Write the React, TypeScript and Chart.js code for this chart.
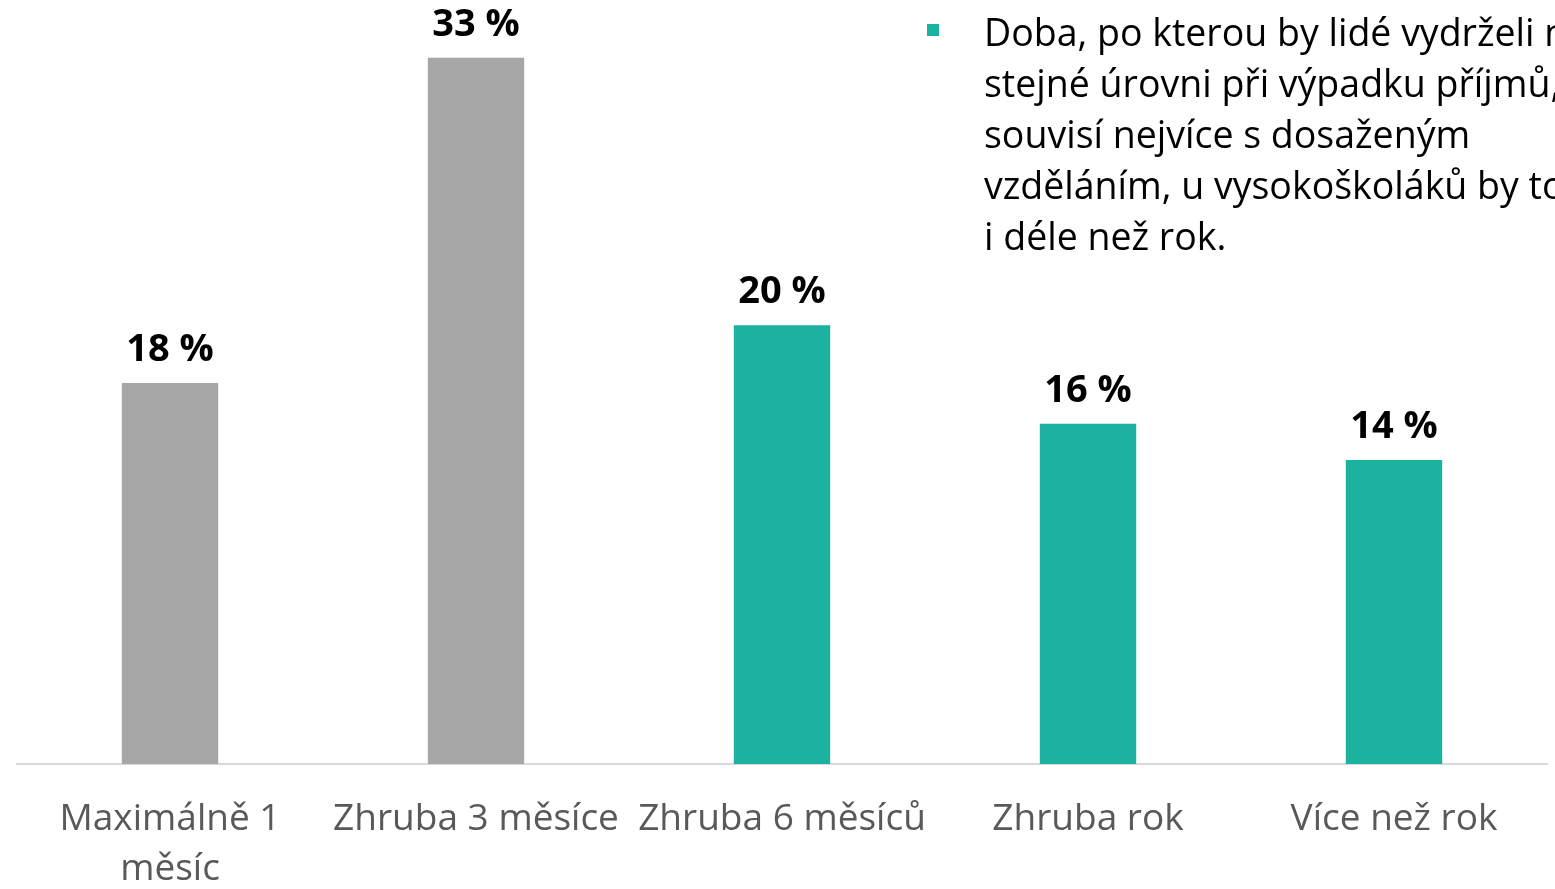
import React, { useEffect, useRef } from "react";
import { Chart, registerables } from "chart.js";

Chart.register(...registerables);

const categories: (string | string[])[] = [
  ["Maximálně 1", "měsíc"],
  "Zhruba 3 měsíce",
  "Zhruba 6 měsíců",
  "Zhruba rok",
  "Více než rok",
];
const values = [17.8, 33.0, 20.5, 15.9, 14.2];
const valueLabels = ["18 %", "33 %", "20 %", "16 %", "14 %"];
const barColors = ["#A6A6A6", "#A6A6A6", "#1BB3A0", "#1BB3A0", "#1BB3A0"];
const noteLines = [
  "Doba, po kterou by lidé vydrželi na",
  "stejné úrovni při výpadku příjmů,",
  "souvisí nejvíce s dosaženým",
  "vzděláním, u vysokoškoláků by to",
  "i déle než rok.",
];

const FONT = "'Open Sans', Lato, sans-serif";

const labelPlugin = {
  id: "valueLabels",
  afterDatasetsDraw(chart: any) {
    const ctx = chart.ctx;
    const meta = chart.getDatasetMeta(0);
    ctx.save();
    ctx.font = `bold 38px ${FONT}`;
    ctx.fillStyle = "#000000";
    ctx.textAlign = "center";
    ctx.textBaseline = "alphabetic";
    meta.data.forEach((el: any, i: number) => {
      ctx.fillText(valueLabels[i], el.x, el.y - 22);
    });
    ctx.restore();
  },
};

const notePlugin = {
  id: "note",
  afterDraw(chart: any) {
    const ctx = chart.ctx;
    ctx.save();
    ctx.fillStyle = "#1BB3A0";
    ctx.fillRect(927, 24, 12, 12);
    ctx.font = `37.5px ${FONT}`;
    ctx.fillStyle = "#000000";
    ctx.textAlign = "left";
    ctx.textBaseline = "alphabetic";
    noteLines.forEach((line, i) => {
      ctx.fillText(line, 984, 46 + i * 51);
    });
    ctx.restore();
  },
};

export default function App() {
  const ref = useRef<HTMLCanvasElement | null>(null);
  useEffect(() => {
    if (!ref.current) return;
    const chart = new Chart(ref.current, {
      type: "bar",
      data: {
        labels: categories,
        datasets: [
          {
            data: values,
            backgroundColor: barColors,
            categoryPercentage: 0.63,
            barPercentage: 0.5,
          },
        ],
      },
      options: {
        animation: false,
        responsive: false,
        layout: { padding: { left: 17, right: 8, top: 0, bottom: 0 } },
        plugins: { legend: { display: false }, tooltip: { enabled: false } },
        scales: {
          x: {
            grid: { display: false, drawTicks: false },
            border: { display: true, color: "#D9D9D9", width: 2 },
            ticks: {
              color: "#595959",
              font: { family: FONT, size: 37, lineHeight: "50px" as any },
              padding: 30,
              maxRotation: 0,
              autoSkip: false,
            },
            afterFit: (scale: any) => {
              scale.height = 125;
            },
          },
          y: {
            display: false,
            min: 0,
            max: 35.7,
          },
        },
      },
      plugins: [labelPlugin, notePlugin],
    });
    return () => chart.destroy();
  }, []);
  return (
    <div style={{ position: "absolute", left: 0, top: 0, width: 1555, height: 889, background: "#fff" }}>
      <canvas ref={ref} width={1555} height={889} style={{ display: "block" }} />
    </div>
  );
}
